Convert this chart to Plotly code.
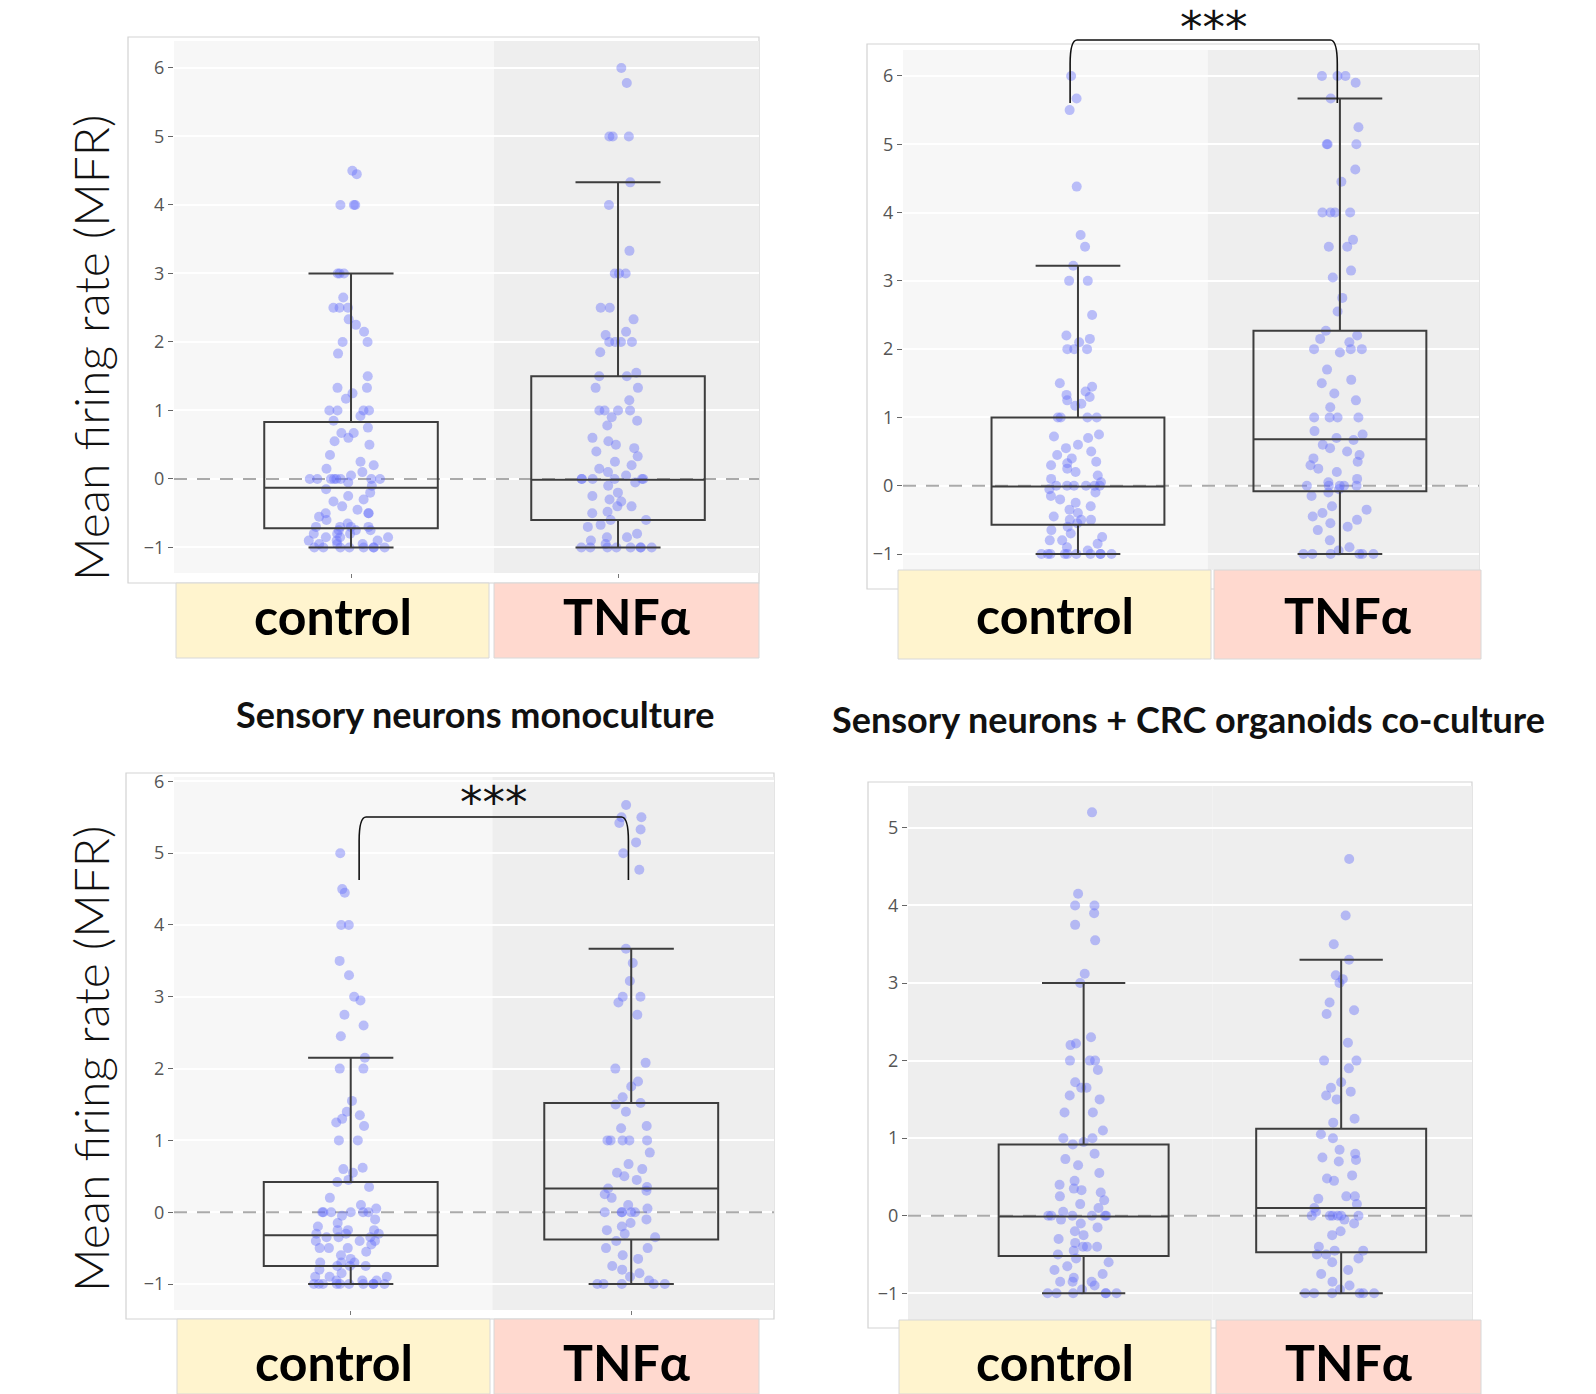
import plotly.graph_objects as go

W, H = 1596, 1394

CATEGORIES = ["control", "TNFα"]
TITLES = ["Sensory neurons monoculture", "Sensory neurons + CRC organoids co-culture"]
YLABEL = "Mean firing rate (MFR)"
SIG_LABEL = "***"

# ---------------- data ----------------
p1_control = [4.5, 4.45, 4.0, 4.0, 4.0, 3.0, 3.0, 3.0, 2.65, 2.5, 2.5, 2.5, 2.33, 2.25, 2.15, 2.0, 2.0,
              1.83, 1.5, 1.33, 1.33, 1.25, 1.17, 1.0, 1.0, 1.0, 1.0, 0.92, 0.85, 0.75, 0.67, 0.67, 0.6,
              0.55, 0.5, 0.35, 0.25, 0.2, 0.15, 0.1, 0.05, 0.0, 0.0, 0.0, 0.0, 0.0, 0.0, 0.0, 0.0,
              -0.05, -0.1, -0.15, -0.2, -0.25, -0.3, -0.33, -0.4, -0.45, -0.5, -0.5, -0.5, -0.55, -0.6,
              -0.65, -0.7, -0.7, -0.7, -0.7, -0.75, -0.75, -0.75, -0.8, -0.8, -0.8, -0.85, -0.85, -0.85,
              -0.9, -0.9, -0.9, -0.95, -0.95, -0.95, -1, -1, -1, -1, -1, -1, -1, -1]
p1_tnf = [6.0, 5.78, 5.0, 5.0, 5.0, 4.33, 4.0, 3.33, 3.0, 3.0, 3.0, 2.5, 2.5, 2.33, 2.15, 2.1, 2.0, 2.0,
          2.0, 2.0, 1.85, 1.55, 1.5, 1.5, 1.33, 1.33, 1.15, 1.0, 1.0, 1.0, 1.0, 0.9, 0.85, 0.78, 0.6,
          0.55, 0.5, 0.45, 0.4, 0.33, 0.25, 0.2, 0.15, 0.1, 0.05, 0.0, 0.0, 0.0, 0.0, 0.0, 0.0, -0.05,
          -0.1, -0.2, -0.25, -0.3, -0.33, -0.4, -0.4, -0.48, -0.5, -0.6, -0.6, -0.67, -0.7, -0.8, -0.85,
          -0.85, -0.9, -0.95, -1, -1, -1, -1, -1, -1, -1, -1]
p2_control = [6.0, 5.67, 5.5, 4.38, 3.67, 3.5, 3.22, 3.0, 3.0, 2.5, 2.2, 2.15, 2.1, 2.0, 2.0, 2.0, 1.5,
              1.45, 1.38, 1.33, 1.3, 1.25, 1.2, 1.17, 1.0, 1.0, 1.0, 1.0, 0.75, 0.72, 0.7, 0.6, 0.55,
              0.5, 0.45, 0.4, 0.35, 0.33, 0.3, 0.25, 0.2, 0.15, 0.1, 0.05, 0.0, 0.0, 0.0, 0.0, 0.0, 0.0,
              -0.05, -0.1, -0.15, -0.2, -0.25, -0.3, -0.35, -0.4, -0.45, -0.5, -0.5, -0.5, -0.55, -0.6,
              -0.65, -0.7, -0.75, -0.8, -0.8, -0.85, -0.9, -0.95, -1, -1, -1, -1, -1, -1, -1, -1, -1, -1]
p2_tnf = [6.0, 6.0, 6.0, 5.9, 5.67, 5.25, 5.0, 5.0, 5.0, 4.63, 4.45, 4.0, 4.0, 4.0, 4.0, 3.6, 3.5, 3.5,
          3.15, 3.05, 2.75, 2.55, 2.27, 2.2, 2.15, 2.1, 2.0, 2.0, 2.0, 1.95, 1.7, 1.55, 1.5, 1.35, 1.25,
          1.15, 1.0, 1.0, 1.0, 1.0, 0.8, 0.75, 0.7, 0.67, 0.6, 0.55, 0.5, 0.45, 0.4, 0.35, 0.3, 0.25,
          0.2, 0.1, 0.05, 0.0, 0.0, 0.0, 0.0, 0.0, -0.05, -0.1, -0.15, -0.3, -0.35, -0.4, -0.45, -0.5,
          -0.55, -0.6, -0.65, -0.8, -0.9, -0.95, -1, -1, -1, -1, -1, -1]
p3_control = [5.0, 4.5, 4.45, 4.0, 4.0, 3.5, 3.3, 3.0, 2.95, 2.75, 2.6, 2.45, 2.15, 2.0, 2.0, 1.55, 1.4,
              1.35, 1.3, 1.25, 1.2, 1.0, 1.0, 0.62, 0.6, 0.55, 0.45, 0.42, 0.35, 0.2, 0.1, 0.05, 0.0,
              0.0, 0.0, 0.0, 0.0, 0.0, -0.05, -0.1, -0.15, -0.2, -0.25, -0.25, -0.25, -0.3, -0.3, -0.3,
              -0.35, -0.35, -0.35, -0.4, -0.4, -0.4, -0.45, -0.5, -0.5, -0.5, -0.55, -0.6, -0.65, -0.7,
              -0.7, -0.7, -0.75, -0.75, -0.75, -0.8, -0.85, -0.9, -0.9, -0.9, -0.95, -0.95, -0.95,
              -1, -1, -1, -1, -1, -1, -1, -1, -1, -1]
p3_tnf = [5.67, 5.5, 5.5, 5.42, 5.33, 5.15, 5.0, 4.77, 3.67, 3.47, 3.22, 3.0, 3.0, 2.92, 2.75, 2.08, 2.0,
          1.82, 1.75, 1.6, 1.52, 1.5, 1.4, 1.2, 1.17, 1.0, 1.0, 1.0, 1.0, 1.0, 0.83, 0.67, 0.6, 0.55,
          0.5, 0.45, 0.35, 0.33, 0.3, 0.25, 0.2, 0.1, 0.05, 0.0, 0.0, 0.0, 0.0, 0.0, -0.1, -0.15, -0.2,
          -0.25, -0.3, -0.35, -0.4, -0.5, -0.5, -0.6, -0.65, -0.75, -0.8, -0.85, -0.9, -0.95,
          -1, -1, -1, -1, -1]
p4_control = [5.2, 4.15, 4.0, 4.0, 3.9, 3.75, 3.55, 3.12, 3.0, 2.3, 2.22, 2.2, 2.0, 2.0, 2.0, 1.88, 1.72,
              1.65, 1.65, 1.55, 1.5, 1.33, 1.33, 1.1, 1.0, 1.0, 0.95, 0.92, 0.8, 0.73, 0.65, 0.55, 0.45,
              0.4, 0.35, 0.33, 0.3, 0.25, 0.2, 0.15, 0.1, 0.05, 0.0, 0.0, 0.0, 0.0, 0.0, 0.0, -0.05,
              -0.1, -0.15, -0.2, -0.25, -0.3, -0.35, -0.4, -0.4, -0.4, -0.45, -0.5, -0.55, -0.6, -0.65,
              -0.7, -0.75, -0.8, -0.85, -0.85, -0.85, -0.9, -0.95, -1, -1, -1, -1, -1, -1]
p4_tnf = [4.6, 3.87, 3.5, 3.3, 3.1, 3.05, 3.0, 2.75, 2.65, 2.6, 2.23, 2.0, 2.0, 1.9, 1.72, 1.65, 1.6,
          1.55, 1.5, 1.25, 1.2, 1.05, 1.0, 0.85, 0.8, 0.75, 0.72, 0.7, 0.52, 0.48, 0.45, 0.25, 0.25,
          0.22, 0.15, 0.1, 0.05, 0.0, 0.0, 0.0, 0.0, 0.0, 0.0, -0.05, -0.1, -0.2, -0.25, -0.4, -0.45,
          -0.45, -0.5, -0.5, -0.55, -0.6, -0.7, -0.75, -0.85, -0.9, -0.95, -1, -1, -1, -1, -1, -1]

# box statistics: lower fence, q1, median, q3, upper fence
p1_control_box = [-1.0, -0.72, -0.13, 0.83, 3.0]
p1_tnf_box = [-1.0, -0.6, -0.01, 1.5, 4.33]
p2_control_box = [-1.0, -0.57, -0.01, 1.0, 3.22]
p2_tnf_box = [-1.0, -0.08, 0.68, 2.27, 5.67]
p3_control_box = [-1.0, -0.75, -0.32, 0.42, 2.15]
p3_tnf_box = [-1.0, -0.38, 0.33, 1.52, 3.67]
p4_control_box = [-1.0, -0.52, -0.01, 0.92, 3.0]
p4_tnf_box = [-1.0, -0.47, 0.1, 1.12, 3.3]

Y_TICKS_A = [-1, 0, 1, 2, 3, 4, 5, 6]
Y_TICKS_B = [-1, 0, 1, 2, 3, 4, 5]

# ---------------- layout (pixels) ----------------
panels = [
    dict(vals=(p1_control, p1_tnf), boxes=(p1_control_box, p1_tnf_box),
         plot=(174, 759, 41, 573), yr=(-1.373, 6.394), xr=(-0.663, 1.528), split=0.535,
         frame=(128, 759, 37, 583), cat=((176, 489), (494, 759), 583, 658, 616), ticks=Y_TICKS_A,
         dark_all=False, bw=0.65, bracket=None),
    dict(vals=(p2_control, p2_tnf), boxes=(p2_control_box, p2_tnf_box),
         plot=(903, 1479, 50, 570), yr=(-1.234, 6.38), xr=(-0.668, 1.531), split=0.496,
         frame=(867, 1479, 44, 589), cat=((898, 1211), (1214, 1481), 570, 659, 615), ticks=Y_TICKS_A,
         dark_all=False, bw=0.66, bracket=(-0.03, 0.99, 103, 40, 1214, -1)),
    dict(vals=(p3_control, p3_tnf), boxes=(p3_control_box, p3_tnf_box),
         plot=(174, 774, 777, 1310), yr=(-1.362, 6.061), xr=(-0.63, 1.509), split=0.505,
         frame=(126, 774, 773, 1319), cat=((177, 490), (494, 759), 1319, 1394, 1362), ticks=Y_TICKS_A,
         dark_all=False, bw=0.62, bracket=(0.03, 0.99, 880, 817, 494, 775)),
    dict(vals=(p4_control, p4_tnf), boxes=(p4_control_box, p4_tnf_box),
         plot=(908, 1472, 786, 1320), yr=(-1.344, 5.54), xr=(-0.682, 1.508), split=0.5,
         frame=(868, 1472, 782, 1328), cat=((899, 1211), (1216, 1481), 1320, 1394, 1362), ticks=Y_TICKS_B,
         dark_all=True, bw=0.66, bracket=None),
]

CAT_FILL = ["#FFF4CE", "#FFD9CF"]
BG_LIGHT, BG_DARK = "#F7F7F7", "#EEEEEE"
POINT_COLOR = "#636EFA"
BOX_LINE = "#3d3d3d"


def px_x(v):
    return v / W


def px_y(v):
    return 1 - v / H


fig = go.Figure()
shapes, annotations = [], []

for i, p in enumerate(panels):
    sfx = "" if i == 0 else str(i + 1)
    xa, ya = "x" + sfx, "y" + sfx
    x0p, x1p, y0p, y1p = p["plot"]
    xdom = [px_x(x0p), px_x(x1p)]
    ydom = [px_y(y1p), px_y(y0p)]

    for k in range(2):
        vals = p["vals"][k]
        fig.add_trace(go.Box(
            x=[k] * len(vals), y=vals, orientation="v", xaxis=xa, yaxis=ya,
            boxpoints="all", jitter=0.5, pointpos=0, width=p["bw"],
            fillcolor="rgba(0,0,0,0)", line=dict(width=0, color="rgba(0,0,0,0)"),
            marker=dict(color=POINT_COLOR, opacity=0.42, size=10, line=dict(width=0)),
            showlegend=False, hoverinfo="y"))
        lo, q1, med, q3, hi = p["boxes"][k]
        fig.add_trace(go.Box(
            x=[k], q1=[q1], median=[med], q3=[q3], lowerfence=[lo], upperfence=[hi],
            orientation="v", xaxis=xa, yaxis=ya, width=p["bw"], whiskerwidth=0.49,
            fillcolor="rgba(0,0,0,0)", line=dict(color=BOX_LINE, width=2),
            boxpoints=False, showlegend=False))

    fig.update_layout(**{
        ("xaxis" + sfx): dict(domain=xdom, range=list(p["xr"]), anchor=ya, showgrid=False,
                              zeroline=False, tickvals=[0, 1], showticklabels=False,
                              ticks="outside", ticklen=4, tickcolor="#777", showline=False,
                              fixedrange=True, automargin=False),
        ("yaxis" + sfx): dict(domain=ydom, range=list(p["yr"]), anchor=xa, tickvals=p["ticks"],
                              ticks="outside", ticklen=5, tickcolor="#666", gridcolor="white",
                              gridwidth=1.6, zeroline=False, showline=False,
                              tickfont=dict(family="Open Sans", size=18, color="#555"),
                              fixedrange=True, automargin=False),
    })

    # frame of the panel
    fx0, fx1, fy0, fy1 = p["frame"]
    shapes.append(dict(type="rect", xref="paper", yref="paper", x0=px_x(fx0), x1=px_x(fx1),
                       y0=px_y(fy1), y1=px_y(fy0), line=dict(color="#D3D3D3", width=1.2),
                       fillcolor="white", layer="below"))
    # background halves
    shapes.append(dict(type="rect", xref=xa, yref=ya, x0=p["xr"][0], x1=p["split"],
                       y0=p["yr"][0], y1=p["yr"][1], line=dict(width=0),
                       fillcolor=BG_DARK if p["dark_all"] else BG_LIGHT, layer="below"))
    shapes.append(dict(type="rect", xref=xa, yref=ya, x0=p["split"], x1=p["xr"][1],
                       y0=p["yr"][0], y1=p["yr"][1], line=dict(width=0),
                       fillcolor=BG_DARK, layer="below"))
    # dashed zero line
    shapes.append(dict(type="line", xref=xa, yref=ya, x0=p["xr"][0], x1=p["xr"][1], y0=0, y1=0,
                       line=dict(color="#AAAAAA", width=2, dash="13px,10px"), layer="between"))

    # category strips
    (cx0, cx1), (tx0, tx1), cy0, cy1, ty = p["cat"]
    for k, (a, b) in enumerate([(cx0, cx1), (tx0, tx1)]):
        shapes.append(dict(type="rect", xref="paper", yref="paper", x0=px_x(a), x1=px_x(b),
                           y0=px_y(cy1), y1=px_y(cy0), line=dict(color="#D8D8D8", width=1),
                           fillcolor=CAT_FILL[k], layer="above"))
        annotations.append(dict(xref="paper", yref="paper", x=px_x((a + b) / 2),
                                y=px_y(ty), text="<b>%s</b>" % CATEGORIES[k],
                                showarrow=False, xanchor="center", yanchor="middle",
                                font=dict(family="Lato", size=50, color="black")))

    # significance bracket
    if p["bracket"]:
        bl, br, ybot, ytop, sx, sy = p["bracket"]

        def dx2p(v):
            return xdom[0] + (v - p["xr"][0]) / (p["xr"][1] - p["xr"][0]) * (xdom[1] - xdom[0])

        xl, xr_ = dx2p(bl), dx2p(br)
        yb, yt = px_y(ybot), px_y(ytop)
        r = 24 / H
        d = 7 / W
        path = (f"M {xl},{yb} L {xl},{yt - r} Q {xl},{yt} {xl + d},{yt} "
                f"L {xr_ - d},{yt} Q {xr_},{yt} {xr_},{yt - r} L {xr_},{yb}")
        shapes.append(dict(type="path", xref="paper", yref="paper", path=path,
                           line=dict(color="#111", width=1.6), layer="above"))
        annotations.append(dict(xref="paper", yref="paper", x=px_x(sx), y=min(1.0, px_y(sy)),
                                text=SIG_LABEL, showarrow=False, xanchor="center",
                                yanchor="top", borderpad=0,
                                font=dict(family="DejaVu Sans", size=45, color="#111")))

# titles
annotations.append(dict(xref="paper", yref="paper", x=px_x(475), y=px_y(714), text=TITLES[0],
                        showarrow=False, xanchor="center", yanchor="middle",
                        font=dict(family="Lato", size=36, color="#111", weight="bold")))
annotations.append(dict(xref="paper", yref="paper", x=px_x(1188), y=px_y(719), text=TITLES[1],
                        showarrow=False, xanchor="center", yanchor="middle",
                        font=dict(family="Lato", size=36, color="#111", weight="bold")))
# y-axis labels
for yc in (348, 1059):
    annotations.append(dict(xref="paper", yref="paper", x=px_x(90), y=px_y(yc), text=YLABEL,
                            showarrow=False, textangle=-90, xanchor="center", yanchor="middle",
                            font=dict(family="Lato", size=48, color="#111", weight=300)))

fig.update_layout(width=W, height=H, margin=dict(l=0, r=0, t=0, b=0, pad=0, autoexpand=False),
                  paper_bgcolor="white", plot_bgcolor="rgba(0,0,0,0)",
                  boxmode="overlay", shapes=shapes, annotations=annotations,
                  showlegend=False)

POST = ("var gd=document.getElementById('{plot_id}');"
        "gd.style.position='absolute';gd.style.top='0px';gd.style.left='0px';"
        "document.body.style.margin='0';document.body.style.overflow='hidden';")

fig.write_html("out.html", config={"displayModeBar": False}, post_script=POST)
